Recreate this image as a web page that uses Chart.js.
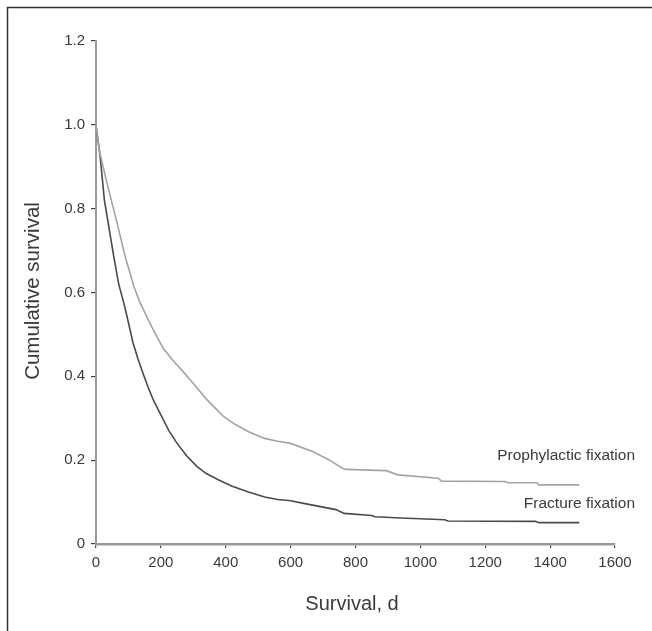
<!DOCTYPE html>
<html>
<head>
<meta charset="utf-8">
<script src="https://cdn.jsdelivr.net/npm/chart.js@4.4.1/dist/chart.umd.min.js"></script>
<style>
  html, body { margin: 0; padding: 0; background: #fff; }
  #wrap { width: 652px; height: 631px; position: relative; }
</style>
</head>
<body>
<div id="wrap"><canvas id="survChart" width="652" height="631"></canvas></div>
<script>
// Survival curves (days, cumulative survival)
const fractureDays = [0, 5, 12, 26, 41, 56, 70, 84, 95, 114, 130, 146, 160, 177, 200, 225, 250, 280, 310, 340, 380, 420, 470, 520, 560, 600, 640, 700, 740, 765, 850, 860, 940, 1075, 1085, 1355, 1365, 1490];
const fractureSurv = [1.0, 0.97, 0.93, 0.82, 0.75, 0.68, 0.62, 0.58, 0.545, 0.48, 0.44, 0.405, 0.375, 0.343, 0.308, 0.27, 0.24, 0.21, 0.186, 0.168, 0.152, 0.138, 0.124, 0.112, 0.106, 0.103, 0.097, 0.088, 0.082, 0.073, 0.068, 0.065, 0.062, 0.058, 0.055, 0.054, 0.051, 0.051];

const prophylacticDays = [0, 10, 31, 62, 92, 118, 135, 155, 177, 207, 238, 270, 300, 341, 392, 430, 470, 520, 560, 600, 670, 720, 757, 770, 895, 930, 1055, 1065, 1260, 1270, 1360, 1365, 1490];
const prophylacticSurv = [1.0, 0.94, 0.87, 0.775, 0.68, 0.612, 0.577, 0.545, 0.51, 0.467, 0.437, 0.41, 0.383, 0.345, 0.305, 0.285, 0.268, 0.252, 0.245, 0.24, 0.22, 0.2, 0.182, 0.178, 0.175, 0.165, 0.157, 0.15, 0.149, 0.146, 0.146, 0.141, 0.141];

const seriesNames = ['Prophylactic fixation', 'Fracture fixation'];
const xTicks = [0, 200, 400, 600, 800, 1000, 1200, 1400, 1600];
const yTicks = [0, 0.2, 0.4, 0.6, 0.8, 1.0, 1.2];

const FONT = '"Liberation Sans", Arial, sans-serif';

function toPoints(xs, ys) {
    return xs.map((x, i) => ({ x: x, y: ys[i] }));
}

// frame, axis titles and curve labels
const decorPlugin = {
    id: 'decor',
    afterDraw(chart) {
        const ctx = chart.ctx;
        const ys = chart.scales.y;
        ctx.save();

        // outer frame (top and left edges only)
        ctx.strokeStyle = '#333';
        ctx.lineWidth = 1.5;
        ctx.beginPath();
        ctx.moveTo(7.5, 631);
        ctx.lineTo(7.5, 7.5);
        ctx.lineTo(652, 7.5);
        ctx.stroke();

        ctx.fillStyle = '#3a3a3a';
        ctx.textAlign = 'center';
        ctx.textBaseline = 'middle';
        ctx.font = '20px ' + FONT;
        ctx.fillText('Survival, d', 352, 604);

        ctx.save();
        ctx.translate(33, 291);
        ctx.rotate(-Math.PI / 2);
        ctx.font = '20.5px ' + FONT;
        ctx.fillText('Cumulative survival', 0, 0);
        ctx.restore();

        // labels at the ends of the curves
        ctx.font = '15.5px ' + FONT;
        ctx.textAlign = 'right';
        const lastP = prophylacticDays.length - 1;
        const lastF = fractureDays.length - 1;
        ctx.fillText(seriesNames[0], 635, ys.getPixelForValue(prophylacticSurv[lastP]) - 29);
        ctx.fillText(seriesNames[1], 635, ys.getPixelForValue(fractureSurv[lastF]) - 19);
        ctx.restore();
    }
};

const ctx = document.getElementById('survChart').getContext('2d');
window.myChart = new Chart(ctx, {
    type: 'line',
    data: {
        datasets: [{
            label: seriesNames[0],
            data: toPoints(prophylacticDays, prophylacticSurv),
            borderColor: '#a4a4a4',
            borderWidth: 1.6,
            pointRadius: 0,
            tension: 0,
            fill: false
        }, {
            label: seriesNames[1],
            data: toPoints(fractureDays, fractureSurv),
            borderColor: '#4a4a4a',
            borderWidth: 1.6,
            pointRadius: 0,
            tension: 0,
            fill: false
        }]
    },
    options: {
        responsive: false,
        animation: false,
        devicePixelRatio: 1,
        layout: { padding: { left: 0, top: 41, right: 37, bottom: 0 } },
        plugins: {
            legend: { display: false },
            tooltip: { enabled: false }
        },
        scales: {
            x: {
                type: 'linear',
                min: 0,
                max: 1600,
                afterFit(scale) { scale.height = 87; },
                afterBuildTicks(scale) { scale.ticks = xTicks.map(v => ({ value: v })); },
                grid: { drawOnChartArea: false, drawTicks: true, tickLength: 4, color: '#444', lineWidth: 1.2 },
                border: { display: true, color: '#999', width: 2.5 },
                ticks: {
                    color: '#3a3a3a',
                    padding: 6,
                    maxRotation: 0,
                    font: { family: FONT, size: 15 },
                    callback: v => String(v)
                }
            },
            y: {
                type: 'linear',
                min: 0,
                max: 1.2,
                afterFit(scale) { scale.width = 96; },
                afterBuildTicks(scale) { scale.ticks = yTicks.map(v => ({ value: v })); },
                grid: { drawOnChartArea: false, drawTicks: true, tickLength: 5, color: '#444', lineWidth: 1.2 },
                border: { display: true, color: '#999', width: 2 },
                ticks: {
                    color: '#3a3a3a',
                    padding: 6,
                    font: { family: FONT, size: 15 },
                    callback: v => v === 0 ? '0' : v.toFixed(1)
                }
            }
        }
    },
    plugins: [decorPlugin]
});
</script>
</body>
</html>
